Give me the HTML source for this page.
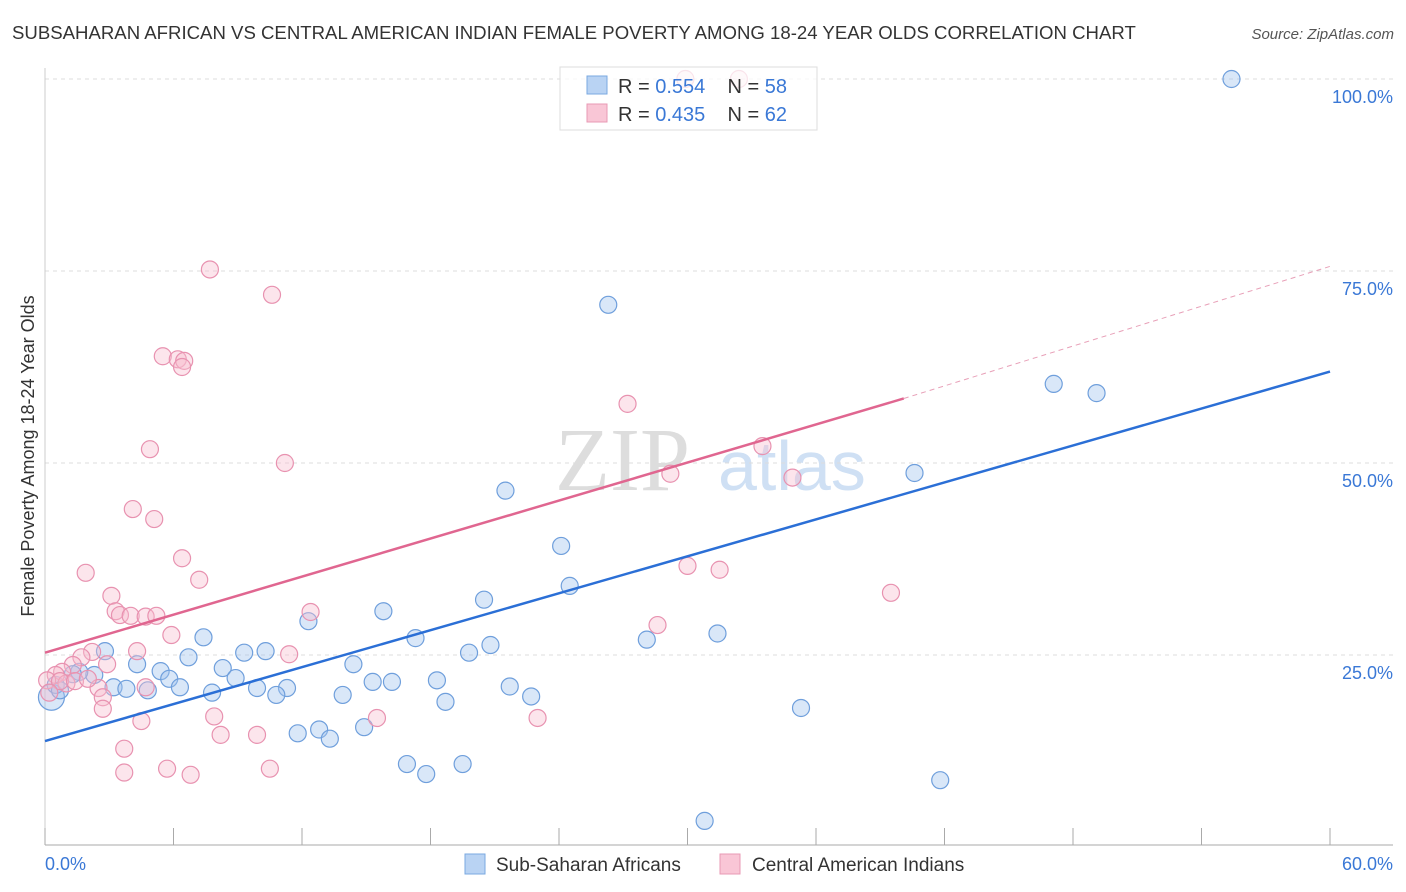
<!DOCTYPE html>
<html><head><meta charset="utf-8"><style>
body{margin:0;background:#fff;font-family:"Liberation Sans",sans-serif}
svg{display:block}
</style></head><body>
<svg id="chart" width="1406" height="892">
<text x="12" y="39" font-size="18.6" fill="#333">SUBSAHARAN AFRICAN VS CENTRAL AMERICAN INDIAN FEMALE POVERTY AMONG 18-24 YEAR OLDS CORRELATION CHART</text>
<text x="1394" y="39" font-size="15" fill="#555" font-style="italic" text-anchor="end">Source: ZipAtlas.com</text>
<text x="34" y="456" font-size="18" fill="#333" text-anchor="middle" transform="rotate(-90 34 456)">Female Poverty Among 18-24 Year Olds</text>
<g><text x="555" y="490" font-size="90" fill="#ddd" font-family="Liberation Serif">ZIP</text><text x="718" y="490" font-size="70" fill="#cfe0f4">atlas</text></g>
<g id="grid"></g><g id="axes"></g><g id="marks"></g>
<g>
<rect x="560" y="67" width="257" height="63" fill="rgba(255,255,255,0.75)" stroke="#ddd"/>
<rect x="587" y="76" width="20" height="18" fill="#b9d3f3" stroke="#7aa8e0"/>
<rect x="587" y="104" width="20" height="18" fill="#f9c6d6" stroke="#e89ab4"/>
<text x="618" y="93" font-size="20" fill="#333">R = <tspan fill="#3a78d6">0.554</tspan>&#160;&#160;&#160;&#160;N = <tspan fill="#3a78d6">58</tspan></text>
<text x="618" y="121" font-size="20" fill="#333">R = <tspan fill="#3a78d6">0.435</tspan>&#160;&#160;&#160;&#160;N = <tspan fill="#3a78d6">62</tspan></text>
</g>
<g>
<rect x="465" y="854" width="20" height="20" fill="#b9d3f3" stroke="#7aa8e0"/>
<text x="496" y="871" font-size="19" fill="#333">Sub-Saharan Africans</text>
<rect x="720" y="854" width="20" height="20" fill="#f9c6d6" stroke="#e89ab4"/>
<text x="752" y="871" font-size="19" fill="#333">Central American Indians</text>
</g>
</svg>
<script>
const blueX=[55.4,26.3,47.1,49.1,40.6,21.5,24.1,24.5,20.5,15.8,12.3,31.4,28.1,17.3,20.8,19.8,7.4,2.8,10.3,9.3,6.7,4.3,14.4,8.3,5.4,5.8,8.9,2.3,1.6,1.3,3.2,3.8,4.8,6.3,7.8,9.9,11.3,10.8,13.9,15.3,16.2,18.3,21.7,22.7,18.7,35.3,14.9,11.8,12.8,13.3,16.9,17.8,19.5,41.8,30.8,0.3,0.5,0.7];
const blueY=[100,70.6,60.3,59.1,48.7,46.4,39.2,34,32.2,30.7,29.4,27.8,27,27.2,26.3,25.3,27.3,25.5,25.5,25.3,24.7,23.8,23.8,23.3,22.9,21.9,22,22.4,22.8,22.5,20.8,20.6,20.4,20.8,20.1,20.7,20.7,19.8,19.8,21.5,21.5,21.7,20.9,19.6,18.9,18.1,15.6,14.8,15.3,14.1,10.8,9.5,10.8,8.7,3.4,19.5,21.1,20.4];
const pinkX=[29.9,32.4,7.7,10.6,5.5,6.2,6.5,6.4,27.2,4.9,11.2,33.5,29.2,34.9,4.1,5.1,6.4,1.9,7.2,3.1,30,31.5,39.5,12.4,3.3,3.5,4,4.7,5.2,5.9,28.6,2.2,4.3,11.4,1.7,2.9,1.3,0.8,0.5,0.1,1,2.5,4.7,2.7,2.7,4.5,7.9,23,15.5,3.7,8.2,9.9,3.7,5.7,6.8,10.5,0.7,0.2,1.4,2];
const pinkY=[100,100,75.2,71.9,63.9,63.5,63.3,62.5,57.7,51.8,50,52.2,48.6,48.1,44,42.7,37.6,35.7,34.8,32.7,36.6,36.1,33.1,30.6,30.7,30.2,30.1,30,30.1,27.6,28.9,25.4,25.5,25.1,24.7,23.8,23.7,22.8,22.4,21.7,21.3,20.7,20.8,19.5,18,16.4,17,16.8,16.8,12.8,14.6,14.6,9.7,10.2,9.4,10.2,21.6,20.1,21.6,21.9];
const xTicks=[0,6,12,18,24,30,36,42,48,54,60];
const yTicks=[25,50,75,100];
const blueLine=[13.8,61.9], pinkLine=[25.3,58.4,75.6];
const NS='http://www.w3.org/2000/svg';
const sx=v=>45+v/60*1285, sy=v=>847-v/100*768;
function mk(t,a,p){const e=document.createElementNS(NS,t);for(const k in a)e.setAttribute(k,a[k]);p.appendChild(e);return e;}
const grid=document.getElementById('grid'),axes=document.getElementById('axes'),marks=document.getElementById('marks');
yTicks.forEach(t=>{
 const l=mk('line',{x1:45,x2:1393,y1:sy(t),y2:sy(t),stroke:'#ddd','stroke-dasharray':'4,4'},grid);
 
 
 const tx=mk('text',{x:1393,y:sy(t)+24,'font-size':18,fill:'#3a78d6','text-anchor':'end'},axes);tx.textContent=t.toFixed(1)+'%';
 
 
});
const ax=mk('line',{x1:45,x2:1393,y1:845,y2:845,stroke:'#aaa'},axes);


const ay=mk('line',{x1:45,x2:45,y1:68,y2:845,stroke:'#ccc'},axes);


xTicks.forEach(t=>{const l=mk('line',{x1:sx(t),x2:sx(t),y1:828,y2:845,stroke:'#aaa'},axes);
 
 });
[[0,'0.0%','start',45],[60,'60.0%','end',1393]].forEach(([v,s,a,x])=>{const t=mk('text',{x:x,y:870,'font-size':18,fill:'#3a78d6','text-anchor':a},axes);t.textContent=s;
 
 });
blueX.forEach((v,i)=>{const c=mk('circle',{cx:sx(v),cy:sy(blueY[i]),r:i==55?13:8.5,fill:'rgba(160,195,238,0.4)',stroke:'#6f9fdc','stroke-width':1.2},marks);
 
 });
pinkX.forEach((v,i)=>{const c=mk('circle',{cx:sx(v),cy:sy(pinkY[i]),r:8.5,fill:'rgba(248,190,208,0.4)',stroke:'#e892b0','stroke-width':1.2},marks);
 
 });
const bl=mk('line',{x1:sx(0),y1:sy(blueLine[0]),x2:sx(60),y2:sy(blueLine[1]),stroke:'#2b6fd6','stroke-width':2.5},marks);


const pl=mk('line',{x1:sx(0),y1:sy(pinkLine[0]),x2:sx(40.1),y2:sy(pinkLine[1]),stroke:'#e06690','stroke-width':2.5},marks);


const pd=mk('line',{x1:sx(40.1),y1:sy(pinkLine[1]),x2:sx(60),y2:sy(pinkLine[2]),stroke:'#e8a0b8','stroke-width':1,'stroke-dasharray':'5,4'},marks);


</script>
</body></html>
